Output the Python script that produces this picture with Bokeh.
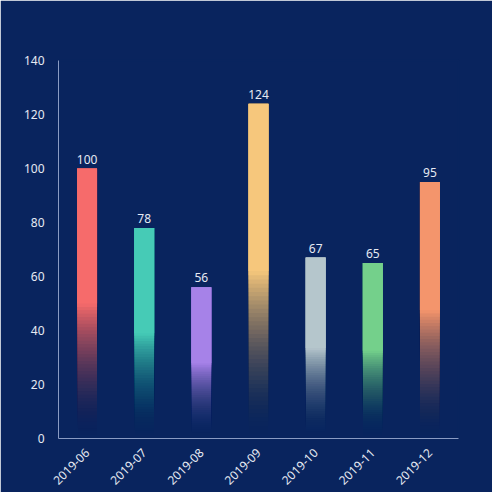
from bokeh.plotting import figure
from bokeh.models import ColumnDataSource
from bokeh.embed import file_html
from bokeh.resources import INLINE
from math import pi

months = ["2019-06", "2019-07", "2019-08", "2019-09", "2019-10", "2019-11", "2019-12"]
counts = [100, 78, 56, 124, 67, 65, 95]
colors = ["#f66b6b", "#46cbb6", "#a682e8", "#f6c77c", "#b5c6cc", "#74d08b", "#f4956c"]

BG = "#09245e"
TXT = "#e6eaf3"

# upper half solid, lower half fades into the background
solid = ColumnDataSource(dict(
    x=months,
    bottom=[v / 2 for v in counts],
    top=counts,
    color=colors,
))

# nested slices (each runs up to the bar top) so no seams show between them
steps = 40
fx, fb, ft, fc, fa = [], [], [], [], []
for m, v, c in zip(months, counts, colors):
    half = v / 2
    prev = 0.0
    for i in range(steps):
        target = ((i + 0.5) / steps) ** 1.7
        a = 1 - (1 - target) / (1 - prev)
        prev = target
        fx.append(m)
        fb.append(half * i / steps)
        ft.append(v)
        fc.append(c)
        fa.append(a)
fade = ColumnDataSource(dict(x=fx, bottom=fb, top=ft, color=fc, alpha=fa))

labels = ColumnDataSource(dict(x=months, y=counts, text=[str(v) for v in counts]))

p = figure(x_range=months, y_range=(0, 140), width=492, height=492,
           output_backend="svg", toolbar_location=None,
           background_fill_color=BG, border_fill_color=BG,
           min_border_left=58, min_border_right=34, min_border_top=60,
           min_border_bottom=54)
# paint over the seam between frame and border fills
p.outline_line_color = BG
p.outline_line_width = 2

p.vbar(x="x", bottom="bottom", top="top", width=0.35, color="color",
       line_color=None, source=fade, fill_alpha="alpha")
p.vbar(x="x", bottom="bottom", top="top", width=0.35, color="color",
       line_color=None, source=solid)

p.text(x="x", y="y", text="text", source=labels, text_align="center",
       text_baseline="bottom", y_offset=-5, text_color=TXT,
       text_font_size="12px", text_font={"value": "Noto Sans"})

p.xgrid.grid_line_color = None
p.ygrid.grid_line_color = None
p.x_range.range_padding = 0
p.yaxis.ticker = [0, 20, 40, 60, 80, 100, 120, 140]

for ax in (p.xaxis, p.yaxis):
    ax.axis_line_color = "#8a9bc3"
    ax.major_tick_line_color = None
    ax.minor_tick_line_color = None
    ax.major_label_text_color = TXT
    ax.major_label_text_font = "Noto Sans"
    ax.major_label_text_font_size = "12px"
p.yaxis.major_label_standoff = 8
p.xaxis.major_label_standoff = 6
p.xaxis.major_label_orientation = pi / 4

open("out.html", "w").write(file_html(p, INLINE))
